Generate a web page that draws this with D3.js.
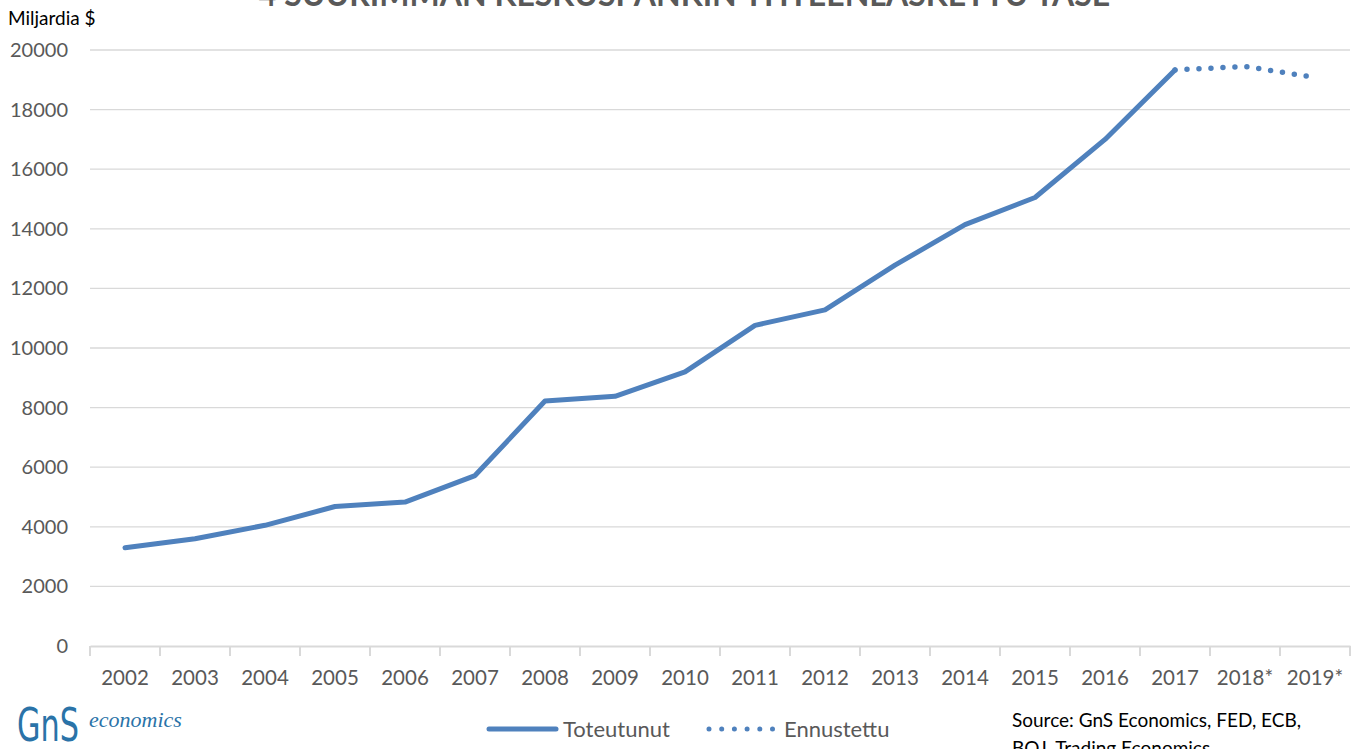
<!DOCTYPE html>
<html>
<head>
<meta charset="utf-8">
<script src="https://cdn.jsdelivr.net/npm/d3@7"></script>
<style>
  body { margin: 0; background: #fff; }
  svg { font-family: Lato, "Open Sans", sans-serif; }
</style>
</head>
<body>
<svg id="chart" width="1360" height="749"></svg>
<script>
// data
const years = ["2002", "2003", "2004", "2005", "2006", "2007", "2008", "2009", "2010",
  "2011", "2012", "2013", "2014", "2015", "2016", "2017", "2018*", "2019*"];
const actual = [3300, 3600, 4050, 4680, 4830, 5720, 8220, 8380, 9200,
  10760, 11280, 12780, 14140, 15050, 17000, 19330];
const forecastYears = ["2017", "2018*", "2019*"];
const forecast = [19330, 19450, 19080];
const yTicks = [0, 2000, 4000, 6000, 8000, 10000, 12000, 14000, 16000, 18000, 20000];

const svg = d3.select("#chart");
const blue = "#4f81bd";
const plotLeft = 90, plotRight = 1350, plotTop = 50, plotBottom = 646;

const x = d3.scaleBand().domain(years).range([plotLeft, plotRight]);
const y = d3.scaleLinear().domain([0, 20000]).range([plotBottom, plotTop]);

// gridlines
svg.append("g")
  .selectAll("line")
  .data(yTicks.filter(d => d > 0))
  .join("line")
  .attr("x1", plotLeft).attr("x2", plotRight)
  .attr("y1", d => y(d)).attr("y2", d => y(d))
  .attr("stroke", "#d9d9d9").attr("stroke-width", 1.3);

// y labels
svg.append("g")
  .selectAll("text")
  .data(yTicks)
  .join("text")
  .attr("x", 68).attr("y", d => y(d) + 7)
  .attr("text-anchor", "end")
  .attr("font-size", 20).attr("fill", "#595959")
  .text(d => d);

// x axis
const xAxis = svg.append("g")
  .attr("transform", `translate(0,${plotBottom})`)
  .call(d3.axisBottom(x).tickSize(0).tickPadding(24));
xAxis.select(".domain").attr("stroke", "#d9d9d9").attr("stroke-width", 2);
xAxis.selectAll("text").attr("font-size", 20.5).attr("fill", "#595959")
  .attr("font-family", "Lato, 'Open Sans', sans-serif");
svg.append("g")
  .selectAll("line")
  .data(years.map((d, i) => i).concat([years.length]))
  .join("line")
  .attr("x1", i => plotLeft + i * x.step()).attr("x2", i => plotLeft + i * x.step())
  .attr("y1", plotBottom).attr("y2", plotBottom + 10)
  .attr("stroke", "#d9d9d9").attr("stroke-width", 2);

const line = d3.line()
  .x(d => x(d[0]) + x.bandwidth() / 2)
  .y(d => y(d[1]));

svg.append("path")
  .datum(actual.map((v, i) => [years[i], v]))
  .attr("d", line)
  .attr("fill", "none").attr("stroke", blue)
  .attr("stroke-width", 5).attr("stroke-linejoin", "round").attr("stroke-linecap", "round");

svg.append("path")
  .datum(forecast.map((v, i) => [forecastYears[i], v]))
  .attr("d", line)
  .attr("fill", "none").attr("stroke", blue)
  .attr("stroke-width", 5.5).attr("stroke-linecap", "round")
  .attr("stroke-dasharray", "0 12");

// title and axis caption
svg.append("text")
  .attr("x", 684).attr("y", 6)
  .attr("text-anchor", "middle")
  .attr("font-size", 32).attr("font-weight", "bold").attr("fill", "#595959")
  .text("4 SUURIMMAN KESKUSPANKIN YHTEENLASKETTU TASE");
svg.append("text")
  .attr("x", 8).attr("y", 25)
  .attr("font-size", 19).attr("fill", "#000")
  .text("Miljardia $");

// legend
const legend = svg.append("g");
legend.append("line")
  .attr("x1", 489).attr("x2", 556).attr("y1", 729).attr("y2", 729)
  .attr("stroke", blue).attr("stroke-width", 5).attr("stroke-linecap", "round");
legend.append("text")
  .attr("x", 563).attr("y", 737)
  .attr("font-size", 22).attr("fill", "#595959").text("Toteutunut");
legend.append("line")
  .attr("x1", 709).attr("x2", 773).attr("y1", 729).attr("y2", 729)
  .attr("stroke", blue).attr("stroke-width", 5).attr("stroke-linecap", "round")
  .attr("stroke-dasharray", "0 12.7");
legend.append("text")
  .attr("x", 784).attr("y", 737)
  .attr("font-size", 22).attr("fill", "#595959").text("Ennustettu");

// source
svg.append("text")
  .attr("x", 1012).attr("y", 727)
  .attr("font-size", 19).attr("fill", "#000")
  .text("Source: GnS Economics, FED, ECB,");
svg.append("text")
  .attr("x", 1012).attr("y", 755)
  .attr("font-size", 19).attr("fill", "#000")
  .text("BOJ, Trading Economics");

// logo
const logo = svg.append("g").attr("fill", "#2a73a8");
logo.append("text")
  .attr("x", 17).attr("y", 741)
  .attr("font-size", 46).attr("font-family", "'DejaVu Sans', sans-serif")
  .attr("textLength", 62).attr("lengthAdjust", "spacingAndGlyphs")
  .text("GnS");
logo.append("text")
  .attr("x", 89).attr("y", 727)
  .attr("font-size", 22).attr("font-style", "italic")
  .attr("font-family", "'Liberation Serif', serif")
  .text("economics");
</script>
</body>
</html>
